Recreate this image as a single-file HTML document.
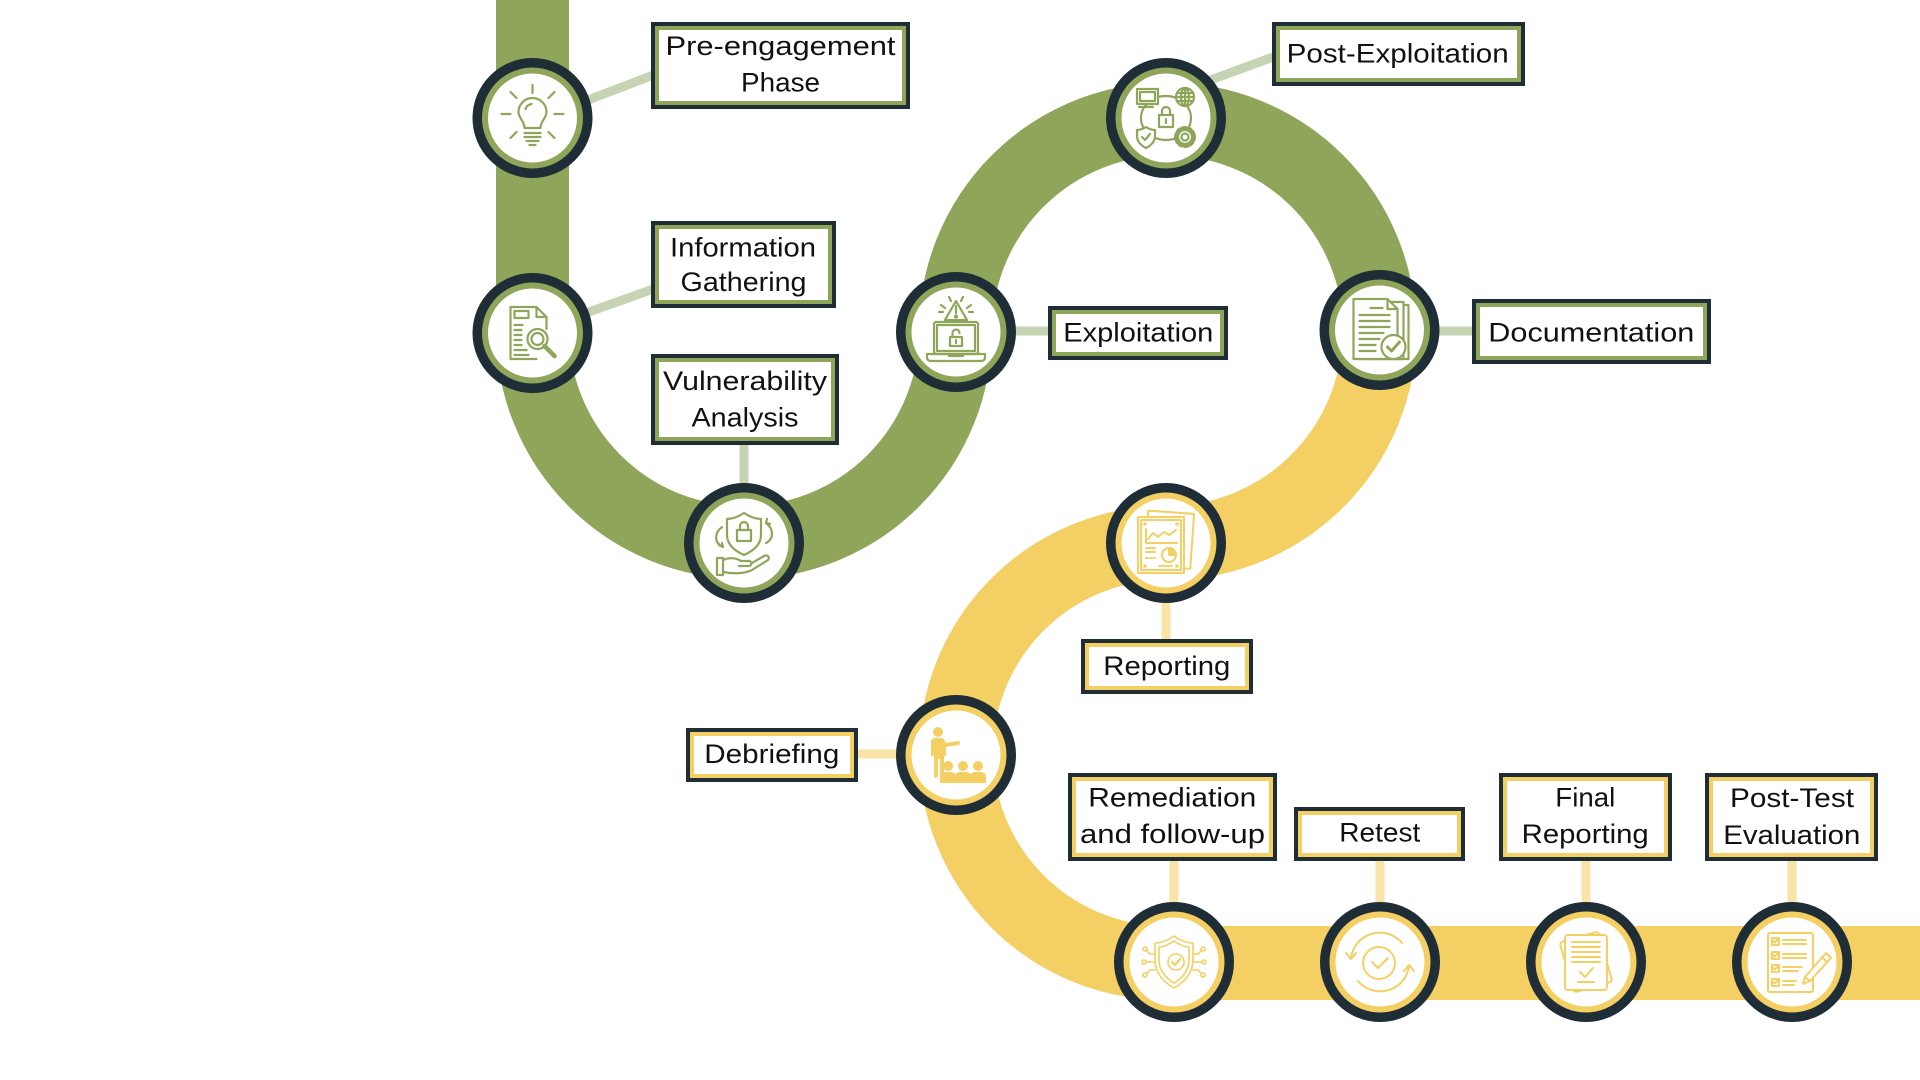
<!DOCTYPE html>
<html><head><meta charset="utf-8"><style>
html,body{margin:0;padding:0;background:#fff;}
svg{display:block;}
text{font-family:"Liberation Sans",Arial,sans-serif;font-size:27px;fill:#111;}
</style></head><body>
<svg width="1920" height="1080" viewBox="0 0 1920 1080" xmlns="http://www.w3.org/2000/svg">
<rect width="1920" height="1080" fill="#fff"/>
<!-- connectors -->
<g stroke="#c7d4b3" stroke-width="9" fill="none">
<line x1="575" y1="105" x2="656" y2="74"/>
<line x1="575" y1="317" x2="656" y2="288"/>
<line x1="744" y1="440" x2="744" y2="500"/>
<line x1="1000" y1="331" x2="1052" y2="331"/>
<line x1="1205" y1="82" x2="1276" y2="56"/>
<line x1="1425" y1="331" x2="1476" y2="331"/>
</g>
<g stroke="#f8e4a6" stroke-width="9" fill="none">
<line x1="1166" y1="590" x2="1166" y2="643"/>
<line x1="852" y1="754" x2="905" y2="754"/>
<line x1="1174" y1="856" x2="1174" y2="910"/>
<line x1="1380" y1="856" x2="1380" y2="910"/>
<line x1="1586" y1="856" x2="1586" y2="910"/>
<line x1="1792" y1="856" x2="1792" y2="910"/>
</g>
<!-- main path -->
<path d="M532.5,-20 L532.5,331 A211.5,211.5 0 0 0 955.5,331 A212,212 0 0 1 1379.5,331" stroke="#8fa65a" stroke-width="73" fill="none"/>
<path d="M1379.5,331 A212,212 0 0 1 1166,543 A210,210 0 0 0 1166,963 L1940,963" stroke="#f4cf64" stroke-width="74" fill="none"/>
<!-- circles -->
<g>
<circle cx="532.5" cy="118" r="60" fill="#1e2d36"/><circle cx="532.5" cy="118" r="50.5" fill="#8fa65a"/><circle cx="532.5" cy="118" r="44.5" fill="#fff"/>
<circle cx="532.5" cy="333" r="60" fill="#1e2d36"/><circle cx="532.5" cy="333" r="50.5" fill="#8fa65a"/><circle cx="532.5" cy="333" r="44.5" fill="#fff"/>
<circle cx="744" cy="543" r="60" fill="#1e2d36"/><circle cx="744" cy="543" r="50.5" fill="#8fa65a"/><circle cx="744" cy="543" r="44.5" fill="#fff"/>
<circle cx="956" cy="332" r="60" fill="#1e2d36"/><circle cx="956" cy="332" r="50.5" fill="#8fa65a"/><circle cx="956" cy="332" r="44.5" fill="#fff"/>
<circle cx="1166" cy="118" r="60" fill="#1e2d36"/><circle cx="1166" cy="118" r="50.5" fill="#8fa65a"/><circle cx="1166" cy="118" r="44.5" fill="#fff"/>
<circle cx="1379.5" cy="330" r="60" fill="#1e2d36"/><circle cx="1379.5" cy="330" r="50.5" fill="#8fa65a"/><circle cx="1379.5" cy="330" r="44.5" fill="#fff"/>
<circle cx="1166" cy="543" r="60" fill="#1e2d36"/><circle cx="1166" cy="543" r="50.5" fill="#f4cf64"/><circle cx="1166" cy="543" r="44.5" fill="#fff"/>
<circle cx="956" cy="755" r="60" fill="#1e2d36"/><circle cx="956" cy="755" r="50.5" fill="#f4cf64"/><circle cx="956" cy="755" r="44.5" fill="#fff"/>
<circle cx="1174" cy="962" r="60" fill="#1e2d36"/><circle cx="1174" cy="962" r="50.5" fill="#f4cf64"/><circle cx="1174" cy="962" r="44.5" fill="#fff"/>
<circle cx="1380" cy="962" r="60" fill="#1e2d36"/><circle cx="1380" cy="962" r="50.5" fill="#f4cf64"/><circle cx="1380" cy="962" r="44.5" fill="#fff"/>
<circle cx="1586" cy="962" r="60" fill="#1e2d36"/><circle cx="1586" cy="962" r="50.5" fill="#f4cf64"/><circle cx="1586" cy="962" r="44.5" fill="#fff"/>
<circle cx="1792" cy="962" r="60" fill="#1e2d36"/><circle cx="1792" cy="962" r="50.5" fill="#f4cf64"/><circle cx="1792" cy="962" r="44.5" fill="#fff"/>
</g>
<!-- icons green -->
<g stroke="#8fa65a" stroke-width="2.2" fill="none" stroke-linecap="round" stroke-linejoin="round">
<!-- bulb -->
<g transform="translate(532.5,118)">
<path d="M-8,10 C-8,3 -14,0 -14,-6 A14,14 0 1 1 14,-6 C14,0 8,3 8,10 Z"/>
<path d="M-7,-9 A8,8 0 0 1 -1,-14"/>
<path d="M-8,15 H8 M-8,19 H8 M-6,23 H6 M-3,27 H3"/>
<path d="M0,-33 V-25 M-31,-4 H-22 M22,-4 H31 M-22,-26 L-16,-20 M22,-26 L16,-20 M-22,20 L-16,14 M22,20 L16,14"/>
</g>
<!-- doc + magnifier -->
<g transform="translate(532.5,333)">
<path d="M4,26 H-22 V-26 H4 L14,-16 V-4"/>
<path d="M4,-26 V-16 H14"/>
<rect x="-18" y="-22" width="14" height="7"/>
<path d="M-18,-8 H-10 M-18,-3 H-11 M-18,2 H-11 M-18,7 H-11 M-18,12 H-11 M-18,17 H-6 M-18,22 H-4"/>
<circle cx="5" cy="6" r="10" fill="#fff"/>
<circle cx="5" cy="6" r="6"/>
<path d="M12,13 L22,23" stroke-width="4.5"/>
</g>
<!-- shield lock hand -->
<g transform="translate(744,543)">
<path d="M0,-30 C-6,-26 -12,-24 -17,-24 V-8 C-17,2 -9,8 0,12 C9,8 17,2 17,-8 V-24 C12,-24 6,-26 0,-30 Z"/>
<rect x="-7" y="-13" width="14" height="11"/>
<path d="M-4,-13 V-17 A4,4 0 0 1 4,-17 V-13"/>
<path d="M-22,-16 C-30,-10 -30,0 -21,4 M-25,2 L-21,4 L-22,0"/>
<path d="M22,-20 C30,-14 30,-4 22,0 M23,-24 L22,-20 L26,-19"/>
<path d="M-27,15 H-21 V32 H-27 Z"/>
<path d="M-21,17 C-14,14 -8,15 -3,18 H5 C8,18 8,23 5,23 H-5"/>
<path d="M-21,29 C-10,31 0,31 8,27 L24,17 C26,15 24,11 20,13 L8,20"/>
</g>
<!-- laptop warning -->
<g transform="translate(956,332)">
<rect x="-22" y="-10" width="44" height="32" rx="2"/>
<rect x="-19" y="-7" width="38" height="26"/>
<path d="M-29,22 H29 V25 C29,28 27,29 25,29 H-25 C-27,29 -29,28 -29,25 Z"/>
<path d="M-7,22 V24 H7 V22"/>
<path d="M0,-31 L-11,-12 H11 Z" fill="#fff"/>
<path d="M0,-26 V-19"/>
<circle cx="0" cy="-15.5" r="1" fill="#8fa65a"/>
<path d="M-15,-27 L-11,-24 M15,-27 L11,-24 M-17,-20 H-13 M17,-20 H13 M-7,-35 L-5,-31 M7,-35 L5,-31"/>
<rect x="-6" y="5" width="12" height="9"/>
<path d="M-3.5,5 V1 A3.5,3.5 0 0 1 3.5,1"/>
<path d="M0,8 V11"/>
</g>
<!-- network -->
<g transform="translate(1166,118)">
<ellipse cx="0" cy="0" rx="25" ry="22"/>
<rect x="-29" y="-29" width="21" height="15" fill="#fff"/>
<rect x="-26" y="-26" width="15" height="9"/>
<path d="M-20,-14 V-11 M-27,-11 H-13"/>
<circle cx="19" cy="-21" r="9" fill="#fff"/>
<ellipse cx="19" cy="-21" rx="4" ry="9"/>
<path d="M10,-21 H28 M11,-25 H27 M11,-17 H27 M19,-30 V-12"/>
<rect x="-7" y="-3" width="14" height="12" fill="#fff"/>
<path d="M-4,-3 V-7 A4,4 0 0 1 4,-7 V-3"/>
<path d="M0,1 V5"/>
<path d="M-20,9 C-23,11 -26,12 -29,12 V18 C-29,24 -24,28 -20,30 C-16,28 -11,24 -11,18 V12 C-14,12 -17,11 -20,9 Z" fill="#fff"/>
<path d="M-24,19 L-21,22 L-16,16"/>
<circle cx="19" cy="19" r="9" stroke-width="4" stroke-dasharray="3 2.65" fill="#fff"/>
<circle cx="19" cy="19" r="7" fill="#fff"/>
<circle cx="19" cy="19" r="3.5"/>
</g>
<!-- docs + check -->
<g transform="translate(1379.5,330)">
<rect x="-16" y="-25" width="45" height="54" fill="#fff"/>
<rect x="-20" y="-28" width="44" height="57" fill="#fff"/>
<path d="M-26,-31 H8 L18,-21 V29 H-26 Z" fill="#fff"/>
<path d="M8,-31 V-21 H18"/>
<path d="M-9,-22 H3 M-20,-15 H10 M-20,-9 H10 M-20,-3 H10 M-20,3 H4 M-20,9 H0 M-20,15 H-4 M-20,21 H-4"/>
<circle cx="14" cy="17" r="12" fill="#fff"/>
<path d="M8,17 L12,21 L20,12" stroke-width="3"/>
</g>
</g>
<!-- icons yellow -->
<g stroke="#f4cf64" stroke-width="2" fill="none" stroke-linecap="round" stroke-linejoin="round">
<!-- report -->
<g transform="translate(1166,543)">
<rect x="-20" y="-31" width="46" height="55" transform="rotate(4)" fill="#fff"/>
<rect x="-28" y="-26" width="46" height="56" fill="#fff"/>
<rect x="-25" y="-23" width="40" height="50"/>
<g fill="#f4cf64" stroke="none"><circle cx="-21" cy="-19" r="1.8"/><circle cx="11" cy="-19" r="1.8"/><circle cx="-21" cy="23" r="1.8"/><circle cx="11" cy="23" r="1.8"/></g>
<path d="M-20,-14 V0 H11"/>
<path d="M-18,-4 L-13,-10 L-8,-6 L-2,-11 L3,-8 L10,-13"/>
<path d="M-20,5 H-11 M-20,9 H-11"/>
<path d="M-20,15 H-11" stroke-dasharray="2 2"/>
<circle cx="3" cy="12" r="7"/>
<path d="M3,12 V5 A7,7 0 0 1 10,12 Z" fill="#f4cf64"/>
<path d="M-7,23 H6" stroke-dasharray="2 2"/>
</g>
<!-- shield circuit -->
<g transform="translate(1174,962)" stroke-width="1.6">
<path d="M0,-26 C-7,-21 -14,-19 -19,-19 V-2 C-19,12 -9,21 0,26 C9,21 19,12 19,-2 V-19 C14,-19 7,-21 0,-26 Z"/>
<path d="M0,-21 C-6,-17 -11,-15 -15,-15 V-2 C-15,9 -7,17 0,21 C7,17 15,9 15,-2 V-15 C11,-15 6,-17 0,-21 Z"/>
<circle cx="2" cy="0" r="8"/>
<path d="M-2,0 L1,3 L6,-3" stroke-width="2.2"/>
<path d="M-19,-8 H-24 L-27,-11 M-19,0 H-28 M-19,8 H-24 L-27,11 M19,-8 H24 L27,-11 M19,0 H28 M19,8 H24 L27,11"/>
<circle cx="-29" cy="-13" r="2"/><circle cx="-30" cy="0" r="2"/><circle cx="-29" cy="13" r="2"/>
<circle cx="29" cy="-13" r="2"/><circle cx="30" cy="0" r="2"/><circle cx="29" cy="13" r="2"/>
</g>
<!-- refresh check -->
<g transform="translate(1380,962)">
<circle cx="-1" cy="1" r="16"/>
<path d="M-8,0 L-2,6 L8,-4"/>
<path d="M-29,-4 A29,29 0 0 1 22,-19"/>
<path d="M-34,-9 L-29,-3 L-24,-9"/>
<path d="M29,4 A29,29 0 0 1 -22,19"/>
<path d="M24,9 L29,3 L34,9"/>
</g>
<!-- docs -->
<g transform="translate(1586,962)">
<rect x="-20" y="-26" width="40" height="52" rx="3" transform="rotate(-16)" fill="#fff"/>
<rect x="-21" y="-27" width="42" height="55" rx="3" fill="#fff"/>
<path d="M-14,-20 H14 M-14,-15 H14 M-14,-10 H14 M-14,-5 H14 M-14,0 H14"/>
<path d="M-6,10 L-1,15 L7,6"/>
<path d="M-8,20 H8"/>
</g>
<!-- checklist pencil -->
<g transform="translate(1792,962)">
<rect x="-24" y="-29" width="45" height="59" rx="2"/>
<rect x="-20" y="-24" width="7" height="7"/><path d="M-18.5,-21 L-17,-19.5 L-14.5,-22.5"/>
<rect x="-20" y="-10" width="7" height="7"/><path d="M-18.5,-7 L-17,-5.5 L-14.5,-8.5"/>
<rect x="-20" y="3" width="7" height="7"/><path d="M-18.5,6 L-17,7.5 L-14.5,4.5"/>
<rect x="-20" y="17" width="7" height="7"/><path d="M-18.5,20 L-17,21.5 L-14.5,18.5"/>
<path d="M-9,-22 H14 M-9,-18 H14 M-9,-8 H14 M-9,-4 H14 M-9,5 H10 M-9,9 H6 M-9,19 H4 M-9,23 H2"/>
<path d="M34,-9 L39,-4 L18,19 L11,22 L13,15 Z" fill="#fff"/>
<path d="M30,-5 L35,0 M13,15 L18,19"/>
</g>
</g>
<!-- presenter filled -->
<g transform="translate(956,755)" fill="#f4cf64">
<circle cx="-18" cy="-23" r="5"/>
<path d="M-25,-13 Q-25,-17 -21,-17 H-15 Q-12,-17 -11,-14 L-10,-12 L2,-14 Q4,-14 4,-12 Q4,-10 2,-10 L-10,-8 V1 H-12 V20 Q-12,23 -14,23 Q-16,23 -16,20 V4 H-18 V20 Q-18,23 -20,23 Q-22,23 -22,20 V1 H-25 Z"/>
<circle cx="-8" cy="11" r="5"/><circle cx="7" cy="11" r="5"/><circle cx="22" cy="11" r="5"/>
<path d="M-16,28 V22 Q-16,17 -11,17 H-5 Q0,17 0,22 V28 Z"/>
<path d="M-1,28 V22 Q-1,17 4,17 H10 Q15,17 15,22 V28 Z"/>
<path d="M14,28 V22 Q14,17 19,17 H25 Q30,17 30,22 V28 Z"/>
</g>
<!-- label boxes -->
<g>
<rect x="651" y="22" width="259" height="87" fill="#1e2d36"/><rect x="655" y="26" width="251" height="79" fill="#8fa65a"/><rect x="659" y="30" width="243" height="71" fill="#fff"/>
<rect x="651" y="221" width="185" height="87" fill="#1e2d36"/><rect x="655" y="225" width="177" height="79" fill="#8fa65a"/><rect x="659" y="229" width="169" height="71" fill="#fff"/>
<rect x="651" y="354" width="188" height="91" fill="#1e2d36"/><rect x="655" y="358" width="180" height="83" fill="#8fa65a"/><rect x="659" y="362" width="172" height="75" fill="#fff"/>
<rect x="1048" y="306" width="180" height="54" fill="#1e2d36"/><rect x="1052" y="310" width="172" height="46" fill="#8fa65a"/><rect x="1056" y="314" width="164" height="38" fill="#fff"/>
<rect x="1272" y="22" width="253" height="64" fill="#1e2d36"/><rect x="1276" y="26" width="245" height="56" fill="#8fa65a"/><rect x="1280" y="30" width="237" height="48" fill="#fff"/>
<rect x="1472" y="299" width="239" height="65" fill="#1e2d36"/><rect x="1476" y="303" width="231" height="57" fill="#8fa65a"/><rect x="1480" y="307" width="223" height="49" fill="#fff"/>
<rect x="1081" y="639" width="172" height="55" fill="#1e2d36"/><rect x="1085" y="643" width="164" height="47" fill="#f4cf64"/><rect x="1089" y="647" width="156" height="39" fill="#fff"/>
<rect x="686" y="728" width="172" height="54" fill="#1e2d36"/><rect x="690" y="732" width="164" height="46" fill="#f4cf64"/><rect x="694" y="736" width="156" height="38" fill="#fff"/>
<rect x="1068" y="773" width="209" height="88" fill="#1e2d36"/><rect x="1072" y="777" width="201" height="80" fill="#f4cf64"/><rect x="1076" y="781" width="193" height="72" fill="#fff"/>
<rect x="1294" y="807" width="171" height="54" fill="#1e2d36"/><rect x="1298" y="811" width="163" height="46" fill="#f4cf64"/><rect x="1302" y="815" width="155" height="38" fill="#fff"/>
<rect x="1499" y="773" width="173" height="88" fill="#1e2d36"/><rect x="1503" y="777" width="165" height="80" fill="#f4cf64"/><rect x="1507" y="781" width="157" height="72" fill="#fff"/>
<rect x="1705" y="773" width="173" height="88" fill="#1e2d36"/><rect x="1709" y="777" width="165" height="80" fill="#f4cf64"/><rect x="1713" y="781" width="157" height="72" fill="#fff"/>
</g>
<!-- text -->
<g>
<text x="665.5" y="55" textLength="230" lengthAdjust="spacingAndGlyphs">Pre-engagement</text>
<text x="741" y="91.5" textLength="79" lengthAdjust="spacingAndGlyphs">Phase</text>
<text x="670" y="256.5" textLength="146" lengthAdjust="spacingAndGlyphs">Information</text>
<text x="680.5" y="291" textLength="126" lengthAdjust="spacingAndGlyphs">Gathering</text>
<text x="663" y="390" textLength="164" lengthAdjust="spacingAndGlyphs">Vulnerability</text>
<text x="691.5" y="426.5" textLength="107" lengthAdjust="spacingAndGlyphs">Analysis</text>
<text x="1063.3" y="341.5" textLength="150" lengthAdjust="spacingAndGlyphs">Exploitation</text>
<text x="1286.7" y="62.5" textLength="222" lengthAdjust="spacingAndGlyphs">Post-Exploitation</text>
<text x="1488.3" y="341.5" textLength="206" lengthAdjust="spacingAndGlyphs">Documentation</text>
<text x="1103.3" y="675" textLength="127" lengthAdjust="spacingAndGlyphs">Reporting</text>
<text x="704.3" y="763" textLength="135" lengthAdjust="spacingAndGlyphs">Debriefing</text>
<text x="1088.3" y="806.5" textLength="168" lengthAdjust="spacingAndGlyphs">Remediation</text>
<text x="1080" y="843" textLength="185" lengthAdjust="spacingAndGlyphs">and follow-up</text>
<text x="1339.3" y="841.5" textLength="81" lengthAdjust="spacingAndGlyphs">Retest</text>
<text x="1555.3" y="806.5" textLength="60" lengthAdjust="spacingAndGlyphs">Final</text>
<text x="1521.7" y="843" textLength="127" lengthAdjust="spacingAndGlyphs">Reporting</text>
<text x="1730" y="807" textLength="124" lengthAdjust="spacingAndGlyphs">Post-Test</text>
<text x="1723.3" y="844" textLength="137" lengthAdjust="spacingAndGlyphs">Evaluation</text>
</g>
</svg>
</body></html>
